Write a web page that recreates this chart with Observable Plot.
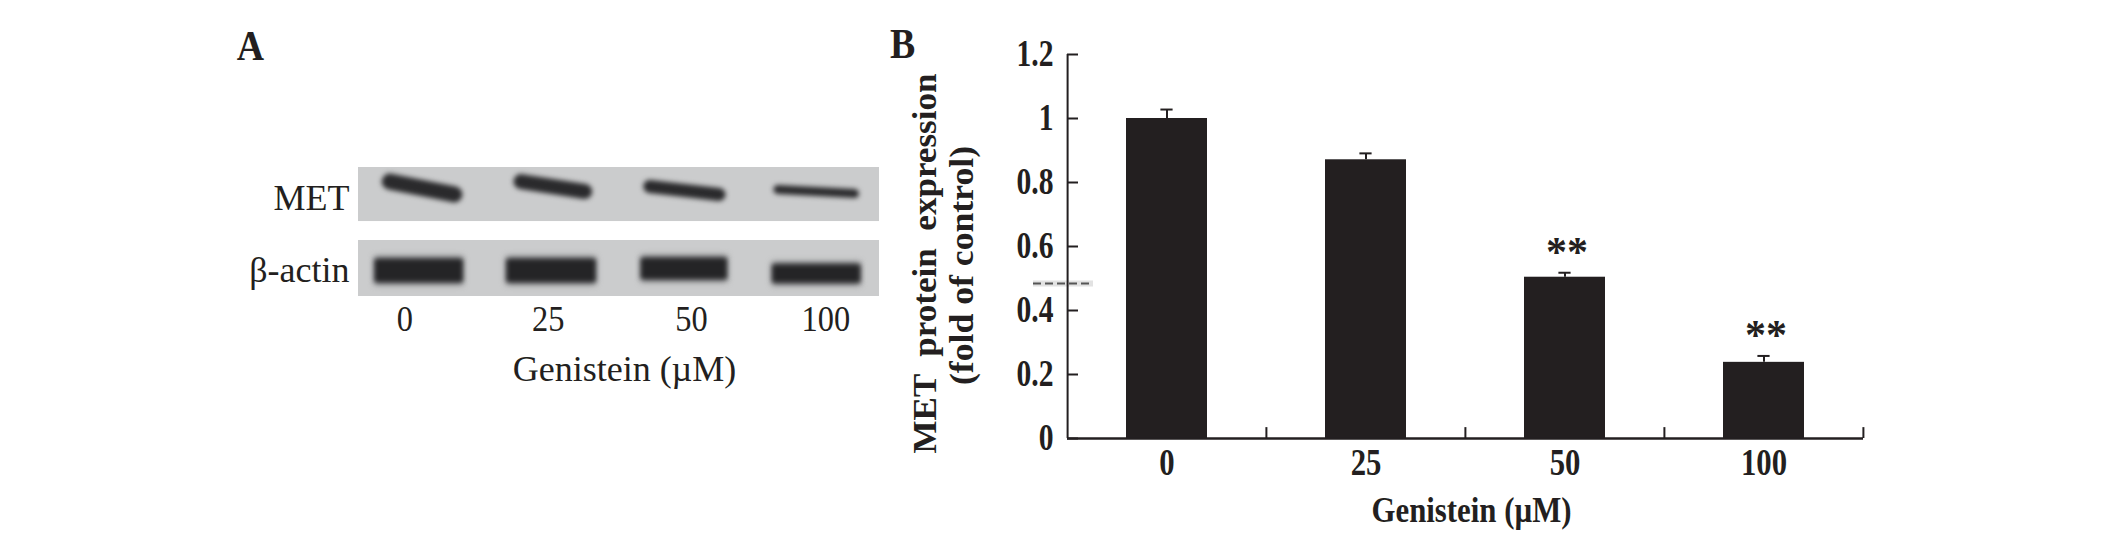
<!DOCTYPE html>
<html><head><meta charset="utf-8">
<script src="https://cdn.jsdelivr.net/npm/d3@7"></script>
<script src="https://cdn.jsdelivr.net/npm/@observablehq/plot@0.6"></script>
<style>
html,body{margin:0;background:#fff}
#fig{display:flex;width:2126px;height:539px;overflow:hidden}
svg{display:block;flex:none}
[aria-label="blot-band"]{filter:blur(2.5px)}
[aria-label="blot-halo"]{filter:blur(3px)}
</style></head><body><div id="fig"></div>
<script>
const doses = ["0","25","50","100"];
const expression = [1.0,0.871,0.504,0.238];
const upperError = [1.028,0.891,0.518,0.258];
const significance = ["","","**","**"];
const yTicks = [0,0.2,0.4,0.6,0.8,1,1.2];
const artifactLevel = [0.484];

// Blot panel, read in percent of blot width and blot stack height
const blotRows = ["MET","β-actin"];
const rowTop = [0,56.6];
const rowBottom = [41.9,100];
const rowCenter = [23.5,79];
const doseTickPos = [8.9,36.4,63.9,89.7];
const metStart = [6,31.2,55.9,80.5];
const metEnd = [18.4,43.4,69.2,95.2];
const metFrom = [10.9,10.9,14.7,17];
const metTo = [20.9,18.6,20.9,20.2];
const metThickness = [16,15,13,9];
const actinStart = [3.1,28.4,54.2,79.4];
const actinEnd = [20,45.5,70.7,96.3];
const actinLevel = [79.8,79.8,78.3,82.2];
const actinThickness = [23,23,21,18];

const ink = "#231f20";
const fig = document.getElementById("fig");
const tag = s=>()=>s;
const fit = (svg,label,k)=>svg.querySelectorAll(`text[aria-label="${label}"],[aria-label="${label}"] text`).forEach(t=>{
  t.setAttribute("textLength",t.getComputedTextLength()*k);
  t.setAttribute("lengthAdjust","spacingAndGlyphs");
});
const fitTo = (svg,label,px)=>svg.querySelectorAll(`text[aria-label="${label}"]`).forEach(t=>{
  t.setAttribute("textLength",px);
  t.setAttribute("lengthAdjust","spacingAndGlyphs");
});

const met = doses.map((d,i)=>({x1:metStart[i],x2:metEnd[i],y1:metFrom[i],y2:metTo[i],w:metThickness[i]}));
const actin = doses.map((d,i)=>({x1:actinStart[i],x2:actinEnd[i],y:actinLevel[i],w:actinThickness[i]}));
const rows = blotRows.map((r,i)=>({r,top:rowTop[i],bottom:rowBottom[i],c:rowCenter[i]}));

const panelA = Plot.plot({
  width:880,height:539,marginLeft:358,marginRight:1,marginTop:167,marginBottom:243,
  style:{fontFamily:"Liberation Serif",color:ink,background:"transparent"},
  x:{domain:[0,100],axis:null},
  y:{domain:[100,0],axis:null},
  marks:[
    Plot.rect(rows,{x1:0,x2:100,y1:"top",y2:"bottom",fill:"#cbcccd"}),
    Plot.link(actin,{x1:"x1",x2:"x2",y1:"y",y2:"y",stroke:"#77787a",strokeWidth:d=>d.w+5,ariaLabel:tag("blot-halo")}),
    Plot.link(met,{x1:"x1",x2:"x2",y1:"y1",y2:"y2",stroke:"#2a2a2c",strokeWidth:"w",strokeLinecap:"round",ariaLabel:tag("blot-band")}),
    Plot.link(actin,{x1:"x1",x2:"x2",y1:"y",y2:"y",stroke:"#242426",strokeWidth:"w",ariaLabel:tag("blot-band")}),
    Plot.text(rows,{x:0,y:"c",text:"r",textAnchor:"end",dx:-9,dy:1,fontSize:36}),
    Plot.axisX({ticks:doseTickPos,tickFormat:(d,i)=>doses[i],tickSize:0,tickPadding:9,fontSize:36,label:null}),
    Plot.text(["Genistein (µM)"],{frameAnchor:"bottom",lineAnchor:"middle",dx:5.5,dy:73,fontSize:36}),
    Plot.text(["A"],{frameAnchor:"top-left",dx:-108,dy:-121,lineAnchor:"middle",textAnchor:"middle",fontSize:42,fontWeight:"bold",ariaLabel:tag("panel-letter")})
  ]
});
fig.append(panelA);

const bars = doses.map((d,i)=>({d,v:expression[i],u:upperError[i],s:significance[i]}));
const halfBand = 99.4;
const panelB = Plot.plot({
  width:1246,height:539,marginLeft:187,marginRight:263,marginTop:54,marginBottom:101,
  style:{fontFamily:"Liberation Serif",color:ink,background:"transparent"},
  x:{domain:doses,padding:0,axis:null},
  y:{domain:[0,1.2],axis:null},
  marks:[
    Plot.ruleY(artifactLevel,{stroke:"#e2e2e2",strokeWidth:6,insetLeft:-34,insetRight:770}),
    Plot.ruleX(doses.slice(0,1),{x:d=>d,dx:-halfBand,y1:0,y2:1.2,stroke:ink,strokeWidth:2}),
    Plot.ruleY(artifactLevel,{stroke:"#555",strokeWidth:2,strokeDasharray:"8 4",insetLeft:-34,insetRight:770}),
    Plot.ruleX(bars,{x:"d",y1:"v",y2:"u",stroke:ink,strokeWidth:2}),
    Plot.tickY(bars,{x:"d",y:"u",stroke:ink,strokeWidth:2,insetLeft:93.4,insetRight:93.4}),
    Plot.barY(bars,{x:"d",y:"v",fill:ink,insetLeft:59,insetRight:59}),
    Plot.ruleX(doses,{x:d=>d,dx:halfBand,y1:0,y2:0.034,stroke:ink,strokeWidth:2}),
    Plot.ruleY([0],{stroke:ink,strokeWidth:2.5}),
    Plot.axisY({ticks:yTicks,tickFormat:d=>`${d}`,tickSize:-11,tickPadding:25,stroke:ink,strokeWidth:2,fontSize:37,fontWeight:"bold",label:null}),
    Plot.axisX({tickSize:0,tickPadding:10,fontSize:37,fontWeight:"bold",label:null}),
    Plot.text(bars,{x:"d",y:"u",text:"s",dy:-20,dx:2,fontSize:42,fontWeight:"bold"}),
    Plot.text(["MET  protein  expression"],{frameAnchor:"left",textAnchor:"middle",lineAnchor:"middle",rotate:-90,dx:-142,dy:17,fontSize:33,fontWeight:"bold",ariaLabel:tag("y-title-1")}),
    Plot.text(["(fold of control)"],{frameAnchor:"left",textAnchor:"middle",lineAnchor:"middle",rotate:-90,dx:-105,dy:19,fontSize:33,fontWeight:"bold",ariaLabel:tag("y-title-2")}),
    Plot.text(["Genistein (µM)"],{frameAnchor:"bottom",lineAnchor:"middle",dx:6,dy:72,fontSize:36,fontWeight:"bold",ariaLabel:tag("b-title")}),
    Plot.text(["B"],{frameAnchor:"top-left",dx:-165,dy:-10,lineAnchor:"middle",textAnchor:"middle",fontSize:42,fontWeight:"bold",ariaLabel:tag("panel-letter")})
  ]
});
fig.append(panelB);

fit(panelA,"x-axis tick label",0.9);
fit(panelA,"panel-letter",0.9);
fit(panelB,"panel-letter",0.9);
fit(panelB,"x-axis tick label",0.83);
fit(panelB,"y-axis tick label",0.8);
fitTo(panelB,"b-title",200);
fitTo(panelB,"y-title-1",380);
fitTo(panelB,"y-title-2",239);
</script></body></html>
